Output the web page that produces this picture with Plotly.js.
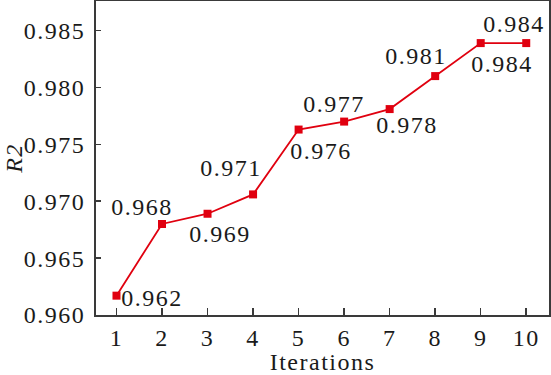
<!DOCTYPE html>
<html>
<head>
<meta charset="utf-8">
<script src="https://cdn.plot.ly/plotly-3.0.1.min.js"></script>
<style>
html, body { margin: 0; padding: 0; background: #fff; }
#chart { width: 551px; height: 375px; }
.main-svg text { letter-spacing: 1.5px; }
</style>
</head>
<body>
<div id="chart"></div>
<script>
const iterations = [1, 2, 3, 4, 5, 6, 7, 8, 9, 10];
const r2Values = [0.9617, 0.9680, 0.9689, 0.9706, 0.9763, 0.9770, 0.9781, 0.9810, 0.9839, 0.9839];
const pointLabels = ['0.962', '0.968', '0.969', '0.971', '0.976', '0.977', '0.978', '0.981', '0.984', '0.984'];
const labelShiftX = [36, -20, 12, -22, 22, -10, 17, -19, 21, -12];
const labelShiftY = [-2, 17, -20, 26, -21, 18, -16, 20, -21, 19];
const yTicks = [0.960, 0.965, 0.970, 0.975, 0.980, 0.985];
const xTicks = [1, 2, 3, 4, 5, 6, 7, 8, 9, 10];

const fontFamily = 'Liberation Serif';
const red = '#e0000f';
const axisColor = '#3a3a3a';
const textColor = '#1a1a1a';

const trace = {
  x: iterations,
  y: r2Values,
  type: 'scatter',
  mode: 'lines+markers',
  line: { color: red, width: 1.8 },
  marker: { color: red, symbol: 'square', size: 8 },
  hoverinfo: 'skip',
  showlegend: false
};

const annotations = iterations.map((it, i) => ({
  x: it,
  y: r2Values[i],
  xref: 'x',
  yref: 'y',
  text: pointLabels[i],
  showarrow: false,
  xshift: labelShiftX[i],
  yshift: labelShiftY[i],
  font: { family: fontFamily, size: 24, color: textColor }
}));

const layout = {
  width: 551,
  height: 375,
  margin: { l: 96, r: 2, t: 1, b: 60 },
  paper_bgcolor: '#ffffff',
  plot_bgcolor: '#ffffff',
  font: { family: fontFamily, size: 24, color: textColor },
  xaxis: {
    range: [0.55, 10.5],
    tickmode: 'array',
    tickvals: xTicks,
    ticktext: xTicks.map(String),
    ticks: 'inside',
    ticklen: 7,
    tickwidth: 1.5,
    tickcolor: axisColor,
    showline: true,
    linecolor: axisColor,
    linewidth: 2,
    mirror: true,
    showgrid: false,
    zeroline: false,
    tickfont: { family: fontFamily, size: 24, color: textColor },
    title: { text: 'Iterations', font: { family: fontFamily, size: 24, color: textColor }, standoff: 2 }
  },
  yaxis: {
    range: [0.960, 0.9876],
    tickmode: 'array',
    tickvals: yTicks,
    ticktext: yTicks.map(v => v.toFixed(3)),
    ticks: 'inside',
    ticklen: 5,
    tickwidth: 1.5,
    tickcolor: axisColor,
    showline: true,
    linecolor: axisColor,
    linewidth: 2,
    mirror: true,
    showgrid: false,
    zeroline: false,
    ticklabelstandoff: 4,
    tickfont: { family: fontFamily, size: 24, color: textColor },
    title: { text: 'R2', font: { family: fontFamily, size: 24, color: textColor, style: 'italic' }, standoff: 2 }
  },
  annotations: annotations
};

Plotly.newPlot('chart', [trace], layout, { staticPlot: true, displayModeBar: false });
</script>
</body>
</html>
